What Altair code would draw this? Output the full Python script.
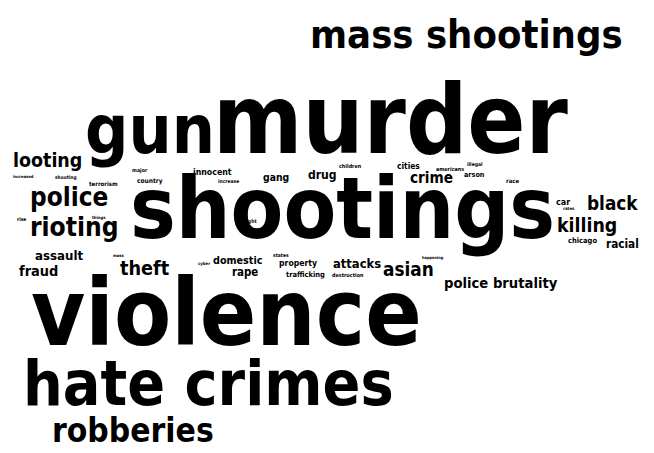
import altair as alt
import pandas as pd

words = ["mass shootings", "murder", "gun", "shootings", "violence", "hate crimes", "robberies",
         "looting", "police", "rioting", "assault", "fraud", "theft", "killing", "black", "racial",
         "police brutality", "asian", "attacks", "domestic", "rape", "property", "trafficking",
         "crime", "drug", "gang", "innocent", "cities", "arson", "americans", "illegal", "race",
         "children", "increase", "country", "major", "terrorism", "shooting", "increased", "rise",
         "things", "right", "mass", "cyber", "states", "destruction", "happening", "car", "rates",
         "chicago"]
weight = [44, 106, 75, 95, 103, 69, 37,
          21.6, 28.8, 29, 14.6, 16, 21.9, 21.5, 20.9, 13,
          16.3, 20.9, 14.3, 11.9, 12.7, 9.6, 8.3,
          16.9, 13.4, 11.5, 9.7, 9.3, 8, 6, 5.6, 6.6,
          6, 5.5, 7.3, 5.8, 6.7, 5.4, 4.6, 5.5,
          4.7, 5.7, 4.6, 4.8, 5.5, 6, 4.4, 9.9, 4.8,
          8.3]
pos_x = [310, 213, 85, 130, 31, 23, 52,
         13, 30, 30, 35, 19, 120, 557, 587, 606,
         444, 383, 333, 213, 232, 279, 286,
         410, 308, 263, 193, 397, 464, 436, 467, 506,
         339, 218, 137, 132, 89, 55, 13, 17,
         92, 244, 113, 198, 273, 332, 422, 556, 563,
         568]
pos_y = [48, 153, 153, 238, 345, 405, 442,
         167, 206, 236, 260, 276, 275, 232, 210, 248,
         288, 276, 268, 264, 276, 266, 277,
         183, 179, 181, 175, 169, 177, 171, 166, 183,
         168, 183, 183, 172, 186, 179, 178, 221,
         219, 223, 257, 265, 257, 277, 259, 205, 210,
         243]

df = pd.DataFrame({"word": words, "weight": weight, "x": pos_x, "y": pos_y})

chart = alt.Chart(df).transform_calculate(
    fs="datum.weight * 0.9"
).mark_text(
    font="DejaVu Sans Condensed", fontWeight="bold", align="left", baseline="alphabetic",
    color="black"
).encode(
    x=alt.X("x:Q", scale=alt.Scale(domain=[8, 646], nice=False, zero=False), axis=None),
    y=alt.Y("y:Q", scale=alt.Scale(domain=[8, 445], nice=False, zero=False, reverse=True), axis=None),
    size=alt.Size("fs:Q", scale=None, legend=None),
    text="word:N",
).properties(
    width=638, height=437, padding=0,
    autosize=alt.AutoSizeParams(type="none"),
).configure_view(stroke=None)

chart.save("out.html", embed_options={"renderer": "svg", "actions": False})
